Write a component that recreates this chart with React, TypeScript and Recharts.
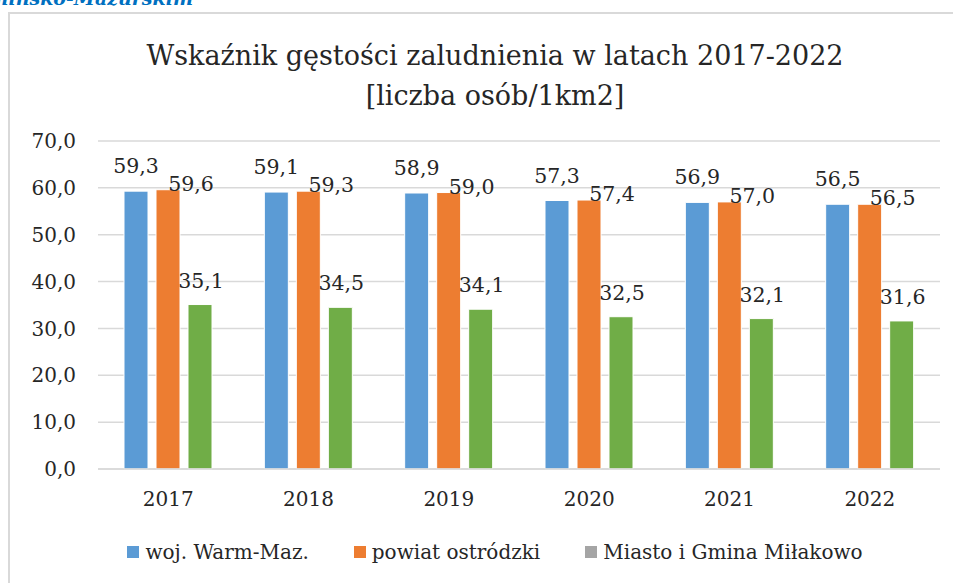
import React from 'react';
import { Bar, BarChart, CartesianGrid, LabelList, Legend, XAxis, YAxis } from 'recharts';

const years = ['2017', '2018', '2019', '2020', '2021', '2022'];
const wojWarmMaz = [59.3, 59.1, 58.9, 57.3, 56.9, 56.5];
const powiatOstrodzki = [59.6, 59.3, 59.0, 57.4, 57.0, 56.5];
const miastoGmina = [35.1, 34.5, 34.1, 32.5, 32.1, 31.6];
const yTicks = [0, 10, 20, 30, 40, 50, 60, 70];

const seriesNames = ['woj. Warm-Maz.', 'powiat ostródzki', 'Miasto i Gmina Miłakowo'];
const barColors = ['#5B9BD5', '#ED7D31', '#70AD47'];
// the source legend shows the third marker in grey, not green
const legendColors = ['#5B9BD5', '#ED7D31', '#A5A5A5'];

const data = years.map((year, i) => ({
  year,
  woj: wojWarmMaz[i],
  powiat: powiatOstrodzki[i],
  miasto: miastoGmina[i],
}));

const FONT = '"DejaVu Serif", serif';
const fmt = (v: number) => v.toFixed(1).replace('.', ',');

function makeLabel(dx: number, dy: number) {
  return (props: any) => {
    const { x, y, width, value } = props;
    return (
      <text
        x={Number(x) + Number(width) / 2 + dx}
        y={Number(y) + dy}
        textAnchor="middle"
        fontFamily={FONT}
        fontSize={20.5}
        fill="#262626"
      >
        {fmt(Number(value))}
      </text>
    );
  };
}

function renderLegend() {
  return (
    <div
      style={{
        display: 'flex',
        justifyContent: 'center',
        alignItems: 'center',
        gap: 45,
        height: 24,
        fontFamily: FONT,
        fontSize: 20,
        color: '#262626',
      }}
    >
      {seriesNames.map((name, i) => (
        <div key={name} style={{ display: 'flex', alignItems: 'center' }}>
          <span
            style={{
              display: 'inline-block',
              width: 12,
              height: 12,
              background: legendColors[i],
              marginRight: 6,
            }}
          />
          <span>{name}</span>
        </div>
      ))}
    </div>
  );
}

export default function App() {
  return (
    <div
      style={{
        position: 'fixed',
        left: 0,
        top: 0,
        width: 953,
        height: 583,
        overflow: 'hidden',
        background: '#fff',
      }}
    >
      <div
        style={{
          position: 'absolute',
          left: 8,
          top: 12,
          width: 1000,
          height: 640,
          border: '2px solid #D9D9D9',
          boxSizing: 'border-box',
        }}
      />
      <svg
        width={953}
        height={583}
        style={{ position: 'absolute', left: 0, top: 0, pointerEvents: 'none', zIndex: 2 }}
      >
        <text
          x={193}
          y={5}
          textAnchor="end"
          fontFamily={FONT}
          fontSize={19}
          fontWeight="bold"
          fontStyle="italic"
          fill="#0070C0"
        >
          Warmińsko-Mazurskim
        </text>
        <text x={495} y={65} textAnchor="middle" fontFamily={FONT} fontSize={27} fill="#262626">
          Wskaźnik gęstości zaludnienia w latach 2017-2022
        </text>
        <text x={495} y={105} textAnchor="middle" fontFamily={FONT} fontSize={27} fill="#262626">
          [liczba osób/1km2]
        </text>
      </svg>
      <div style={{ position: 'absolute', left: 0, top: 0 }}>
        <BarChart
          width={953}
          height={583}
          data={data}
          margin={{ top: 141, right: 13, bottom: 60, left: 38 }}
          barSize={24}
          barGap={8}
        >
          <CartesianGrid vertical={false} stroke="#D9D9D9" strokeWidth={1.5} />
          <XAxis
            dataKey="year"
            height={30}
            axisLine={{ stroke: '#D9D9D9', strokeWidth: 1.5 }}
            tickLine={false}
            tickSize={0}
            tickMargin={23}
            tick={{ fontFamily: FONT, fontSize: 20, fill: '#262626' }}
          />
          <YAxis
            width={60}
            domain={[0, 70]}
            ticks={yTicks}
            axisLine={false}
            tickLine={false}
            tickSize={0}
            tickMargin={22}
            tickFormatter={(v: number) => fmt(v)}
            tick={{ fontFamily: FONT, fontSize: 20, fill: '#262626' }}
          />
          <Legend
            content={renderLegend}
            wrapperStyle={{ position: 'absolute', left: 0, top: 540, width: 990, bottom: 'auto' }}
          />
          <Bar dataKey="woj" name={seriesNames[0]} fill={barColors[0]} stroke="#fff" strokeWidth={1} isAnimationActive={false}>
            <LabelList dataKey="woj" content={makeLabel(0, -18)} />
          </Bar>
          <Bar dataKey="powiat" name={seriesNames[1]} fill={barColors[1]} stroke="#fff" strokeWidth={1} isAnimationActive={false}>
            <LabelList dataKey="powiat" content={makeLabel(23, 1)} />
          </Bar>
          <Bar dataKey="miasto" name={seriesNames[2]} fill={barColors[2]} stroke="#fff" strokeWidth={1} isAnimationActive={false}>
            <LabelList dataKey="miasto" content={makeLabel(1, -17)} />
          </Bar>
        </BarChart>
      </div>
    </div>
  );
}
